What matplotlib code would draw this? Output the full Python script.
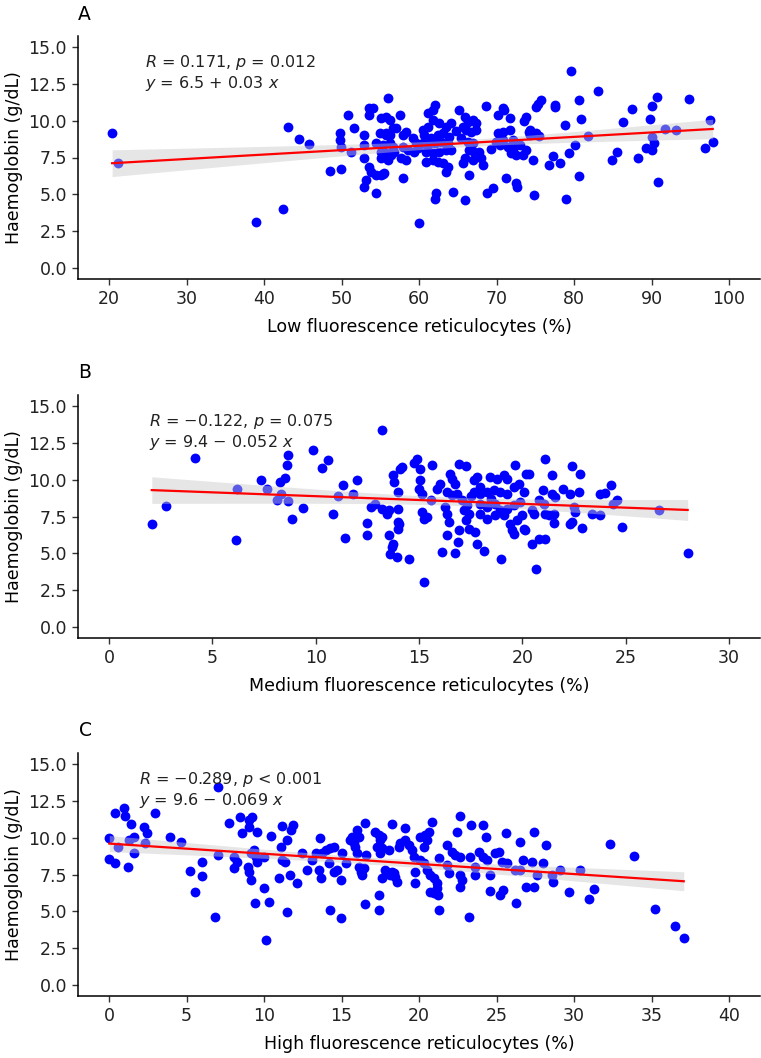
import numpy as np
import matplotlib
matplotlib.use("Agg")
import matplotlib.pyplot as plt

plt.rcParams['font.family'] = ['DejaVu Sans']
plt.rcParams['mathtext.fontset'] = 'dejavusans'

# ---- data ----
# Panel A: low fluorescence reticulocytes (%) vs haemoglobin
low_x = [20.4, 21.1, 38.95, 42.5, 43.1, 44.5, 45.8, 48.5, 49.9, 50.8, 49.8, 49.8, 49.9, 51.65, 51.2,
         52.95, 52.95, 52.95, 53.6, 54.0, 53.6, 55.1, 55.95, 55.75, 56.2, 55.0, 55.75, 56.2, 54.5, 55.3,
         56.2, 56.6, 55.1, 55.75, 56.4, 55.1, 56.0, 53.6, 53.8, 54.5, 55.1, 55.5, 53.2, 52.95, 54.4,
         57.0, 57.5, 57.9, 58.3, 57.9, 58.55, 57.7, 58.3, 57.9, 59.2, 59.6, 59.4, 59.85, 60.05, 61.1,
         62.0, 61.8, 60.5, 61.1, 61.8, 62.6, 63.5, 64.15, 60.7, 61.6, 62.4, 63.1, 63.9, 60.5, 61.1,
         62.0, 62.85, 63.7, 60.9, 61.8, 62.6, 63.5, 64.15, 60.9, 61.8, 62.4, 63.1, 63.7, 63.5, 62.2,
         62.0, 64.4, 65.95, 65.2, 65.9, 66.3, 66.95, 67.4, 65.65, 66.1, 66.7, 67.4, 65.4, 66.3, 66.95,
         66.5, 67.1, 67.8, 65.9, 65.65, 66.95, 68.0, 68.2, 66.5, 68.6, 69.95, 70.2, 70.8, 71.7, 70.8,
         72.1, 70.4, 71.5, 72.3, 73.0, 71.9, 72.55, 73.4, 73.8, 74.3, 74.3, 75.1, 73.6, 73.8, 70.2,
         70.8, 71.0, 71.8, 74.7, 75.1, 75.3, 75.7, 71.2, 69.5, 68.75, 72.5, 72.6, 74.8, 75.5, 74.2,
         77.5, 77.5, 78.8, 80.9, 80.07, 79.4, 81.8, 80.7, 79.0, 77.3, 76.8, 78.2, 79.6, 83.1, 80.7,
         86.3, 87.5, 84.9, 85.5, 88.3, 89.8, 90.0, 90.7, 89.3, 90.0, 90.3, 90.1, 90.8, 91.8, 93.2,
         94.85, 97.5, 96.9, 97.9, 55.7, 56.6, 55.3, 56.8, 64.8, 69.3]
low_hb = [9.19, 7.1, 3.15, 4.0, 9.55, 8.74, 8.4, 6.55, 6.7, 10.4, 9.14, 8.7, 8.24, 9.48, 7.9,
          9.03, 8.35, 7.44, 10.84, 10.84, 10.4, 10.16, 11.52, 10.27, 10.05, 9.14, 9.14, 9.03, 8.46, 8.35,
          8.46, 8.23, 7.9, 7.78, 7.67, 7.44, 7.33, 6.88, 6.54, 6.31, 6.31, 6.42, 5.97, 5.52, 5.07,
          9.48, 10.38, 9.03, 9.25, 8.23, 8.01, 7.44, 7.33, 6.08, 8.8, 8.46, 7.9, 8.12, 3.05, 10.5,
          11.06, 10.72, 9.37, 9.59, 10.05, 9.82, 9.59, 9.82, 9.03, 8.8, 9.03, 9.14, 8.91, 8.46, 8.35,
          8.46, 8.57, 8.46, 7.9, 7.78, 7.9, 8.01, 8.01, 7.22, 7.33, 7.22, 7.1, 6.88, 6.54, 5.07,
          4.7, 5.18, 4.61, 10.7, 10.27, 9.93, 10.05, 9.82, 9.59, 9.37, 9.25, 9.37, 8.8, 8.57, 8.46,
          8.01, 7.9, 7.9, 7.44, 7.1, 7.33, 7.44, 6.99, 6.31, 11.0, 8.57, 9.14, 9.25, 9.37, 8.69,
          8.69, 8.35, 8.23, 8.23, 8.35, 7.78, 7.67, 7.67, 8.01, 9.37, 9.03, 9.14, 10.0, 10.27, 10.4,
          10.84, 10.7, 10.15, 7.33, 10.95, 11.13, 11.4, 6.08, 5.4, 5.07, 5.74, 5.52, 4.95, 8.96, 9.25,
          11.06, 10.9, 9.7, 10.09, 8.35, 7.78, 8.96, 6.26, 4.68, 7.6, 6.99, 7.1, 13.4, 12.03, 11.4,
          9.93, 10.77, 7.33, 7.9, 7.44, 10.09, 11.0, 11.63, 8.12, 8.01, 8.5, 8.91, 5.86, 9.41, 9.37,
          11.47, 10.04, 8.16, 8.53, 9.0, 9.5, 6.4, 7.9, 9.3, 8.1]

# Panel B: medium fluorescence reticulocytes (%)
med_x = [2.07, 2.78, 4.17, 6.13, 6.18, 7.37, 7.66, 8.11, 8.31, 8.27, 8.5, 8.68, 8.6, 8.68, 8.87,
         9.39, 9.87, 10.32, 10.59, 10.85, 11.08, 11.32, 11.4, 11.82, 12.01, 12.5, 12.5, 12.7, 12.85, 13.22,
         13.22, 13.46, 13.54, 13.54, 13.59, 13.75, 13.75, 13.78, 13.94, 14.0, 14.0, 13.97, 14.0, 14.1, 14.19,
         14.75, 14.91, 15.07, 15.07, 14.99, 15.15, 15.64, 15.88, 14.03, 13.7, 14.51, 15.15, 15.23, 15.39, 15.23,
         16.09, 16.36, 16.44, 16.36, 16.28, 16.76, 16.89, 16.92, 16.52, 16.6, 16.76, 16.36, 16.6, 16.84, 16.92,
         17.25, 17.09, 17.33, 17.17, 17.41, 17.25, 17.41, 17.73, 17.81, 18.13, 17.65, 17.81, 17.97, 17.65, 17.97,
         18.29, 18.45, 18.78, 19.1, 19.26, 18.62, 18.94, 19.26, 19.58, 19.82, 20.06, 17.97, 18.29, 18.7, 18.94,
         19.26, 19.58, 17.97, 18.29, 18.7, 19.1, 19.42, 19.5, 19.58, 19.74, 19.98, 20.06, 20.14, 18.98, 19.63,
         20.18, 20.31, 20.47, 20.55, 20.47, 20.79, 21.11, 20.66, 20.79, 21.03, 21.11, 21.27, 21.0, 21.11, 21.43,
         21.43, 21.59, 21.51, 21.51, 21.96, 22.32, 22.4, 22.8, 22.72, 22.48, 22.56, 22.32, 22.4, 22.88, 23.37,
         23.77, 23.77, 24.01, 24.28, 24.41, 24.6, 24.81, 26.6, 28.0, 17.5, 18.5, 19.9, 16.0, 15.6]
med_hb = [6.97, 8.19, 11.47, 5.88, 9.39, 10.0, 9.34, 8.6, 9.05, 9.84, 10.1, 11.7, 10.97, 8.53, 7.31,
          8.08, 11.99, 10.79, 11.36, 7.69, 8.89, 9.62, 6.04, 9.01, 10.0, 7.06, 6.27, 8.15, 8.33, 13.35,
          8.03, 7.69, 7.92, 6.27, 4.98, 5.61, 10.3, 9.84, 4.75, 9.16, 8.03, 7.13, 6.67, 10.75, 10.86,
          11.13, 11.43, 10.75, 9.96, 9.39, 9.05, 11.02, 9.39, 7.02, 5.43, 4.64, 7.81, 7.35, 7.47, 3.05,
          5.07, 6.22, 7.13, 7.69, 8.15, 5.05, 5.77, 6.56, 10.41, 10.07, 9.73, 9.16, 8.94, 9.05, 11.09,
          10.9, 8.6, 8.26, 7.92, 7.69, 7.24, 6.67, 6.45, 5.66, 5.16, 9.96, 10.18, 9.5, 9.16, 9.05,
          9.16, 10.18, 10.07, 10.3, 10.07, 9.28, 9.16, 9.05, 9.5, 9.73, 9.16, 8.37, 8.15, 8.37, 7.92,
          8.03, 8.26, 7.69, 7.35, 7.58, 7.58, 7.02, 6.56, 6.29, 7.24, 7.58, 6.67, 6.56, 4.59, 10.97,
          10.36, 10.36, 7.92, 7.69, 5.61, 5.99, 5.95, 3.96, 8.6, 8.37, 7.69, 7.58, 9.28, 11.43, 10.34,
          9.05, 8.82, 7.06, 7.65, 9.39, 9.05, 10.93, 10.41, 9.16, 8.15, 7.81, 7.02, 7.13, 6.72, 7.69,
          7.58, 9.01, 9.1, 9.62, 8.37, 8.64, 6.79, 7.96, 5.05, 8.9, 8.7, 8.5, 9.7, 8.6]

# Panel C: high fluorescence reticulocytes (%)
high_x = [0.02, 0.02, 0.39, 0.39, 0.95, 1.03, 1.42, 0.6, 1.25, 1.31, 1.63, 1.63, 2.23, 2.45, 2.32,
          2.96, 3.95, 4.64, 5.22, 5.56, 6.03, 6.03, 6.83, 7.0, 7.0, 7.75, 8.07, 8.07, 8.29, 8.46,
          8.61, 9.04, 9.04, 9.25, 8.97, 9.04, 9.14, 9.14, 9.36, 9.46, 9.57, 9.57, 9.4, 10.0, 10.15,
          10.0, 10.33, 10.43, 10.97, 11.18, 11.08, 11.18, 11.35, 11.46, 11.5, 11.68, 11.72, 11.89, 12.15, 12.43,
          12.79, 13.11, 13.33, 13.61, 13.65, 13.54, 13.76, 13.97, 14.29, 14.51, 14.19, 14.51, 14.72, 14.25, 14.94,
          14.98, 15.05, 15.26, 15.58, 15.69, 15.8, 15.9, 16.01, 16.01, 16.12, 16.12, 16.23, 16.33, 16.44, 16.55,
          16.5, 16.5, 17.19, 17.41, 17.51, 17.3, 17.51, 17.62, 17.41, 17.41, 17.62, 17.94, 18.16, 18.37, 18.59,
          18.05, 18.27, 18.69, 18.8, 19.12, 19.33, 19.55, 19.66, 19.08, 19.76, 19.76, 20.09, 20.41, 20.51, 20.3,
          20.84, 20.62, 20.09, 20.3, 20.51, 20.73, 20.94, 21.16, 20.73, 20.94, 21.2, 21.16, 21.29, 21.27, 21.8,
          22.12, 22.34, 22.66, 21.8, 21.91, 22.62, 22.45, 22.66, 22.77, 22.66, 23.2, 23.35, 24.12, 24.33, 23.3,
          23.63, 23.63, 23.84, 24.16, 24.38, 24.59, 24.59, 24.91, 25.13, 25.34, 25.66, 25.6, 25.24, 25.45, 26.27,
          26.2, 26.52, 26.52, 26.74, 26.89, 27.42, 27.27, 27.59, 28.02, 27.42, 28.2, 28.56, 28.67, 29.1, 29.7,
          30.38, 30.96, 31.31, 32.32, 33.88, 35.21, 36.54, 37.08, 17.83, 18.26, 18.48, 17.62]
high_hb = [9.96, 8.53, 8.26, 11.66, 12.0, 11.48, 10.91, 9.39, 8.04, 9.85, 10.07, 8.94, 10.75, 10.3, 9.62,
           11.66, 10.07, 9.73, 7.74, 6.29, 8.37, 7.4, 4.64, 13.42, 8.83, 11.02, 8.72, 7.92, 8.37, 11.43,
           10.3, 11.2, 10.75, 11.43, 8.04, 7.7, 7.13, 8.94, 9.17, 8.72, 8.37, 10.41, 5.55, 6.56, 3.06,
           8.72, 5.61, 10.12, 7.24, 10.82, 9.39, 8.49, 8.38, 9.85, 4.98, 7.47, 10.53, 10.87, 6.9, 8.94,
           7.81, 8.49, 8.94, 9.96, 7.24, 7.81, 8.94, 9.17, 9.28, 9.39, 8.26, 7.7, 7.81, 5.09, 4.53,
           7.13, 8.94, 8.26, 9.85, 10.07, 9.62, 9.39, 8.94, 10.53, 10.07, 8.04, 7.7, 7.47, 7.92, 8.83,
           10.98, 5.48, 10.41, 10.19, 9.85, 9.39, 8.94, 9.28, 6.11, 5.09, 7.24, 7.7, 7.47, 7.58, 7.02,
           9.17, 10.91, 9.39, 9.62, 9.85, 9.51, 9.17, 8.72, 10.68, 7.7, 6.95, 10.07, 10.19, 9.85, 9.39,
           11.05, 10.41, 8.49, 8.26, 7.81, 7.47, 7.24, 6.9, 6.34, 6.22, 6.11, 6.56, 5.09, 8.6, 9.51,
           9.06, 8.83, 8.72, 8.15, 7.58, 11.48, 10.37, 7.47, 7.13, 6.68, 4.64, 10.87, 10.87, 10.07, 8.72,
           8.04, 7.47, 9.06, 8.72, 8.49, 7.47, 6.39, 8.94, 9.06, 8.38, 8.26, 10.3, 6.11, 6.45, 5.55,
           7.81, 7.81, 9.73, 8.49, 6.63, 6.63, 8.38, 7.47, 8.26, 10.37, 9.51, 7.47, 7.02, 7.81, 6.29,
           7.81, 5.82, 6.52, 9.58, 8.76, 5.16, 4.01, 3.17, 7.81, 7.7, 7.36, 10.07]

# fitted line coefficients printed on the chart
low_fit = (6.5, 0.03)
med_fit = (9.4, -0.052)
high_fit = (9.6, -0.069)

low_stats = [r'$\it{R}$ = 0.171, $\it{p}$ = 0.012', r'$\it{y}$ = 6.5 + 0.03 $\it{x}$']
med_stats = [r'$\it{R}$ = −0.122, $\it{p}$ = 0.075', r'$\it{y}$ = 9.4 − 0.052 $\it{x}$']
high_stats = [r'$\it{R}$ = −0.289, $\it{p}$ < 0.001', r'$\it{y}$ = 9.6 − 0.069 $\it{x}$']

y_ticks = [0.0, 2.5, 5.0, 7.5, 10.0, 12.5, 15.0]

W, H = 761, 1058
fig = plt.figure(figsize=(W / 100, H / 100), dpi=100)


def px_rect(left, top, right, bottom):
    return [left / W, 1 - bottom / H, (right - left) / W, (bottom - top) / H]


def panel(rect, x, hb, fit, stats, xlim, xticks, xlabel, letter, letter_pos, text_x):
    ax = fig.add_axes(rect)
    x = np.array(x)
    hb = np.array(hb)
    ax.scatter(x, hb, s=50, color='#0000FF', linewidths=0, zorder=2)

    # regression line with 95% band
    b0, b1 = fit
    xs = np.linspace(x.min(), x.max(), 100)
    ys = b0 + b1 * xs
    n = len(x)
    resid = hb - (b0 + b1 * x)
    s = np.sqrt((resid ** 2).sum() / (n - 2))
    xm = x.mean()
    se = s * np.sqrt(1 / n + (xs - xm) ** 2 / ((x - xm) ** 2).sum())
    ax.fill_between(xs, ys - 1.97 * se, ys + 1.97 * se, color='#C8C8C8', alpha=0.45,
                    linewidth=0, zorder=3)
    ax.plot(xs, ys, color='#FF0000', lw=1.6, zorder=4)

    ax.text(text_x, 13.95, stats[0], fontsize=11.5, color='#222222', ha='left', va='center')
    ax.text(text_x, 12.5, stats[1], fontsize=11.5, color='#222222', ha='left', va='center')

    ax.set_xlim(*xlim)
    ax.set_ylim(-0.75, 15.75)
    ax.set_xticks(xticks)
    ax.set_yticks(y_ticks)
    ax.set_yticklabels([f'{v:.1f}' for v in y_ticks])
    for side in ['top', 'right']:
        ax.spines[side].set_visible(False)
    for side in ['left', 'bottom']:
        ax.spines[side].set_linewidth(1.1)
    ax.tick_params(direction='out', length=4, width=1, labelsize=12.5,
                   labelcolor='#222222', color='#333333', pad=4)
    ax.set_xlabel(xlabel, fontsize=12.5, labelpad=7)
    ax.set_ylabel('Haemoglobin (g/dL)', fontsize=12.5, labelpad=4)
    fig.text(letter_pos[0] / W, 1 - letter_pos[1] / H, letter, fontsize=13.5,
             ha='center', va='center')
    return ax


panel(px_rect(78, 36, 760, 279), low_x, low_hb, low_fit, low_stats,
      (16, 104), [20, 30, 40, 50, 60, 70, 80, 90, 100],
      'Low fluorescence reticulocytes (%)', 'A', (84, 15), 24.6)
panel(px_rect(78, 395, 760, 638), med_x, med_hb, med_fit, med_stats,
      (-1.5, 31.5), [0, 5, 10, 15, 20, 25, 30],
      'Medium fluorescence reticulocytes (%)', 'B', (85, 372), 1.95)
panel(px_rect(78, 753, 760, 996), high_x, high_hb, high_fit, high_stats,
      (-2, 42), [0, 5, 10, 15, 20, 25, 30, 35, 40],
      'High fluorescence reticulocytes (%)', 'C', (85, 730), 1.95)

fig.savefig('out.png', dpi=100)
